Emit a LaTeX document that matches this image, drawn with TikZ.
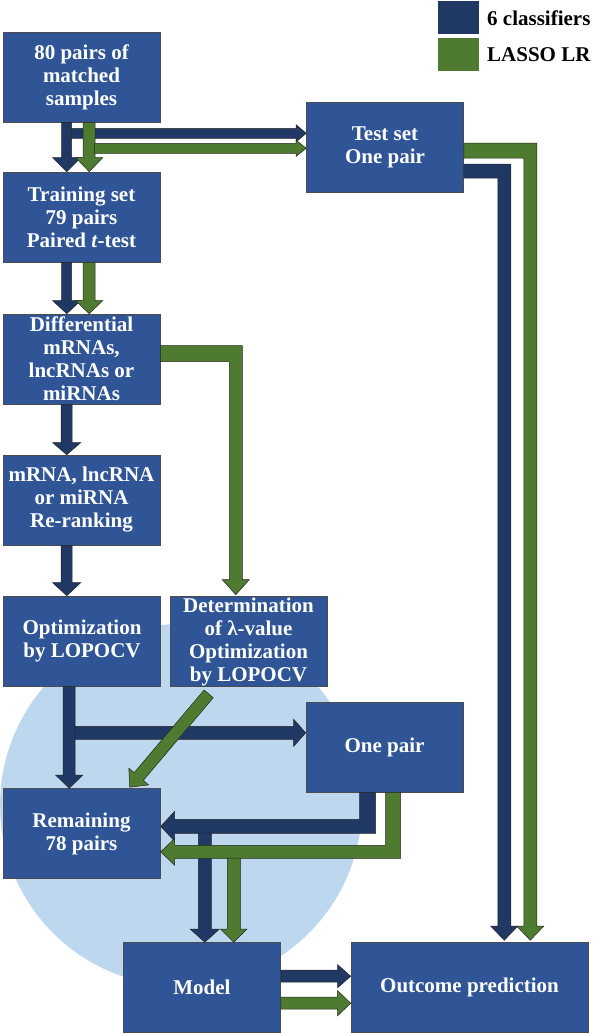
\documentclass[tikz,border=0pt]{standalone}
\usepackage{fontspec}
\setmainfont{Liberation Serif}
\usetikzlibrary{calc}
\definecolor{boxblue}{HTML}{2F5597}
\definecolor{navy}{HTML}{1F3864}
\definecolor{grn}{HTML}{4E7B2F}
\definecolor{circ}{HTML}{BDD7EE}
% block arrow: #1 style, #2 from, #3 to, #4 shaft half width, #5 head half width, #6 head length
\newcommand\barrow[6]{%
  \coordinate (bah) at ($(#3)!#6!(#2)$);
  \filldraw[#1] ($(#2)!#4!90:(#3)$) -- ($(bah)!#4!90:(#3)$) -- ($(bah)!#5!90:(#3)$) -- (#3)
    -- ($(bah)!#5!-90:(#3)$) -- ($(bah)!#4!-90:(#3)$) -- ($(#2)!#4!-90:(#3)$) -- cycle;}
\begin{document}
\begin{tikzpicture}[x=1pt,y=-1pt,
  box/.style={draw=black!70, line width=0.6pt, fill=boxblue, text=white,
    font=\fontsize{21}{23}\selectfont\bfseries, align=center, inner sep=1pt,
    minimum width=157pt, minimum height=90pt},
  navyarrow/.style={fill=navy, draw=black!85, line width=0.5pt},
  greenarrow/.style={fill=grn, draw=black!85, line width=0.5pt},
  legsq/.style={minimum width=41pt, minimum height=33pt, inner sep=0pt},
  legtext/.style={anchor=west, inner sep=0pt, text=black, font=\fontsize{21}{24}\selectfont\bfseries}]
\useasboundingbox (0,0) rectangle (596,1035);
% background circle
\fill[circ] (181,805) circle[radius=181pt];
% boxes
\node[box] (b1) at (81.5,77) {80 pairs of\\matched\\samples};
\node[box] (b2) at (81.5,217) {Training set\\79 pairs\\Paired \textit{t}-test};
\node[box] (b3) at (81.5,359) {Differential\\mRNAs,\\lncRNAs or\\miRNAs};
\node[box] (b4) at (81.5,500) {mRNA, lncRNA\\or miRNA\\Re-ranking};
\node[box] (b5) at (82,641) {Optimization\\by LOPOCV};
\node[box] (b6) at (248.5,641.5) {Determination\\of λ-value\\Optimization\\by LOPOCV};
\node[box] (test) at (385,147.5) {Test set\\One pair};
\node[box] (pair) at (384.5,747) {One pair};
\node[box] (b8) at (81.5,833.5) {Remaining\\78 pairs};
\node[box] (model) at (202,987.5) {Model};
\node[box, minimum width=237pt] (out) at (469.5,987) {Outcome prediction};
% legend
\node[legsq, fill=navy] (lg1) at (458.5,17.5) {};
\node[legsq, fill=grn] (lg2) at (458.5,54.5) {};
\node[legtext] (lt1) at (487,18) {6 classifiers};
\node[legtext] (lt2) at (487,55) {LASSO LR};
% coordinates
\coordinate (a1s) at ($(b1.south west)+(64,0)$);
\coordinate (a1e) at (a1s |- b2.north);
\coordinate (a2s) at ($(b1.south west)+(86.5,0)$);
\coordinate (a2e) at (a2s |- b2.north);
\coordinate (a3s) at ($(b1.south west)+(69,11)$);
\coordinate (a3e) at (a3s -| test.west);
\coordinate (a4s) at ($(b1.south west)+(92,26)$);
\coordinate (a4e) at (a4s -| test.west);
\coordinate (a5s) at ($(b2.south west)+(64,0)$);
\coordinate (a5e) at (a5s |- b3.north);
\coordinate (a6s) at ($(b2.south west)+(86.5,0)$);
\coordinate (a6e) at (a6s |- b3.north);
\coordinate (a7s) at ($(b3.south west)+(64,0)$);
\coordinate (a7e) at (a7s |- b4.north);
\coordinate (a8s) at ($(b4.south west)+(64,0)$);
\coordinate (a8e) at (a8s |- b5.north);
\coordinate (a9s) at ($(b5.south west)+(66,0)$);
\coordinate (a9e) at (a9s |- b8.north);
\coordinate (a10s) at ($(b5.south west)+(72,46.5)$);
\coordinate (a10e) at (a10s -| pair.west);
\coordinate (a11s) at ($(b6.south west)+(39,7)$);
\coordinate (a11e) at ($(b8.north west)+(127,-1)$);
\coordinate (a14s) at ($(b8.north east)+(44.5,45)$);
\coordinate (a14e) at (a14s |- model.north);
\coordinate (a15s) at ($(b8.north east)+(73.5,70)$);
\coordinate (a15e) at (a15s |- model.north);
\coordinate (a16s) at ($(model.north east)+(0,34)$);
\coordinate (a16e) at (a16s -| out.west);
\coordinate (a17s) at ($(model.north east)+(0,61)$);
\coordinate (a17e) at (a17s -| out.west);
% arrows from sample box
\barrow{navyarrow}{a1s}{a1e}{5pt}{14pt}{14pt}
\barrow{navyarrow}{a3s}{a3e}{5pt}{8.5pt}{10pt}
\barrow{greenarrow}{a2s}{a2e}{6pt}{13.5pt}{14pt}
\barrow{greenarrow}{a4s}{a4e}{5pt}{8pt}{10pt}
% training -> differential
\barrow{navyarrow}{a5s}{a5e}{5pt}{14pt}{13pt}
\barrow{greenarrow}{a6s}{a6e}{6pt}{13.5pt}{13pt}
% differential -> determination (green elbow)
\filldraw[greenarrow] ($(b3.north east)+(0,32)$) -- ++(82,0) -- ++(0,234) -- ++(7,0)
  -- ++(-13.5,15) -- ++(-13.5,-15) -- ++(7,0) -- ++(0,-218) -- ++(-69,0) -- cycle;
% left column
\barrow{navyarrow}{a7s}{a7e}{5.5pt}{14pt}{12pt}
\barrow{navyarrow}{a8s}{a8e}{5.5pt}{14pt}{13pt}
\barrow{navyarrow}{a9s}{a9e}{6pt}{13.5pt}{13pt}
\barrow{navyarrow}{a10s}{a10e}{6.5pt}{13.5pt}{12pt}
\barrow{greenarrow}{a11s}{a11e}{6pt}{13pt}{14pt}
% one pair -> remaining
\filldraw[navyarrow] ($(pair.south west)+(54,0)$) -- ++(16,0) -- ++(0,41) -- ++(-201,0) -- ++(0,8)
  -- ++(-14,-15) -- ++(14,-15) -- ++(0,8) -- ++(185,0) -- cycle;
\barrow{navyarrow}{a14s}{a14e}{6.5pt}{14.5pt}{13pt}
\filldraw[greenarrow] ($(pair.south west)+(80,0)$) -- ++(15,0) -- ++(0,66) -- ++(-226,0) -- ++(0,7)
  -- ++(-14,-13.5) -- ++(14,-13.5) -- ++(0,7) -- ++(211,0) -- cycle;
\barrow{greenarrow}{a15s}{a15e}{6.5pt}{13pt}{13pt}
% model -> outcome
\barrow{navyarrow}{a16s}{a16e}{6pt}{11.5pt}{13pt}
\barrow{greenarrow}{a17s}{a17e}{6pt}{12.5pt}{13pt}
% test set -> outcome
\filldraw[navyarrow] ($(test.north east)+(0,62)$) -- ++(47,0) -- ++(0,762) -- ++(7,0)
  -- ++(-13.5,14) -- ++(-13.5,-14) -- ++(7,0) -- ++(0,-748) -- ++(-34,0) -- cycle;
\filldraw[greenarrow] ($(test.north east)+(0,41)$) -- ++(73,0) -- ++(0,783) -- ++(7,0)
  -- ++(-13.5,14) -- ++(-13.5,-14) -- ++(7,0) -- ++(0,-768) -- ++(-60,0) -- cycle;
\end{tikzpicture}
\end{document}
